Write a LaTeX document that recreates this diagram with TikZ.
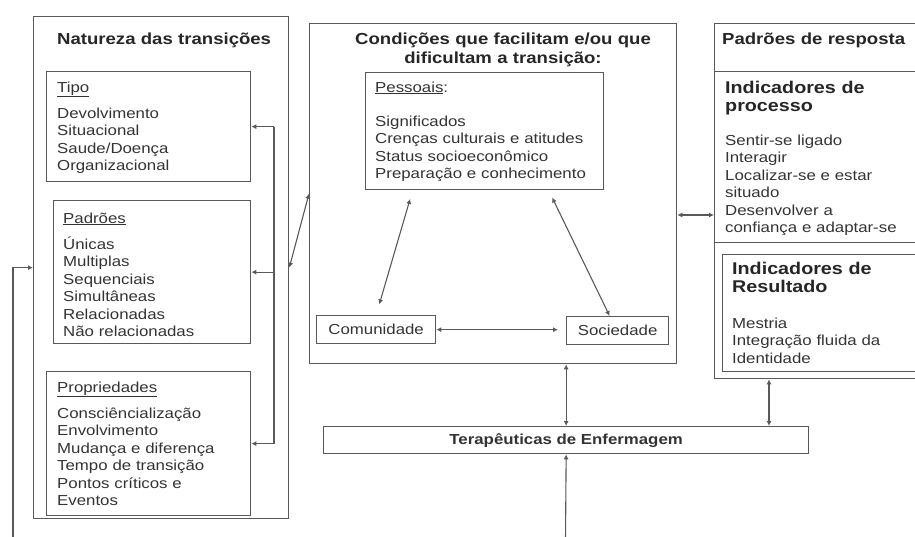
\documentclass[tikz,border=0pt]{standalone}
\usepackage{fontspec}
\setmainfont{Liberation Sans}[FakeStretch=1.16]
\usetikzlibrary{positioning,arrows.meta}

\begin{document}
\begin{tikzpicture}[
    x=1pt, y=-1pt,
    >={Latex[length=5pt,width=5pt]},
    box/.style={
        rectangle,
        draw=black!65,
        line width=1.3pt,
        anchor=north west,
        inner sep=0pt,
        text=black!80,
        font=\fontsize{14.5}{17.5}\selectfont
    },
    body/.style={
        anchor=base west,
        inner sep=0pt,
        text width=190pt,
        align=left,
        text=black!80,
        font=\fontsize{14.5}{17.5}\selectfont
    },
    head/.style={
        anchor=base west,
        inner sep=0pt,
        text width=300pt,
        align=left,
        text=black!85,
        font=\bfseries\fontsize{16}{19}\selectfont
    },
    link/.style={draw=black!65, line width=1.1pt}
]
    \useasboundingbox (0,0) rectangle (915,536);

    % Natureza das transicoes
    \node[box, minimum width=255pt, minimum height=502pt] (nat) at (33,16) {};
    \node[below right=28pt and 24pt of nat.north west, head] (natT) {Natureza das transições};
    \node[box, minimum width=204pt, minimum height=110pt] (tipo) at (46,71) {};
    \node[below right=21pt and 11pt of tipo.north west, body] (tipoT) {\underline{Tipo}\\[8.5pt]
        Devolvimento\\ Situacional\\ Saude/Doença\\ Organizacional};
    \node[box, minimum width=197pt, minimum height=143pt] (padroes) at (53,200) {};
    \node[below right=23pt and 10pt of padroes.north west, body] (padroesT) {\underline{Padrões}\\[8.5pt]
        Únicas\\ Multiplas\\ Sequenciais\\ Simultâneas\\ Relacionadas\\ Não relacionadas};
    \node[box, minimum width=204pt, minimum height=144pt] (props) at (46,371) {};
    \node[below right=21pt and 11pt of props.north west, body] (propsT) {\underline{Propriedades}\\[8.5pt]
        Consciêncialização\\ Envolvimento\\ Mudança e diferença\\ Tempo de transição\\ Pontos críticos e\\ Eventos};

    % ligacao aos tres quadros
    \coordinate (brk) at (274,0);
    \draw[link] (tipo.east -| brk) -- (props.east -| brk);
    \foreach \b in {tipo,padroes,props}
        \draw[link,->] (\b.east -| brk) -- (\b.east);

    % Condicoes
    \node[box, minimum width=367pt, minimum height=340pt] (cond) at (309,23) {};
    \node[head, anchor=base, align=center, text width=360pt] (condT) at (503,44) {Condições que facilitam e/ou que\\ dificultam a transição:};
    \node[box, minimum width=238pt, minimum height=117pt] (pess) at (365,72) {};
    \node[below right=20pt and 10pt of pess.north west, body, text width=225pt] (pessT) {\underline{Pessoais}:\\[16.5pt]
        Significados\\ Crenças culturais e atitudes\\ Status socioeconômico\\ Preparação e conhecimento};
    \node[box, minimum width=119pt, minimum height=28pt] (comun) at (316,315) {Comunidade};
    \node[box, minimum width=102pt, minimum height=28pt] (soc) at (566,316) {Sociedade};

    \draw[link,<->, shorten <=9pt, shorten >=11pt] ([xshift=-72pt]pess.south) -- (comun.north);
    \draw[link,<->, shorten <=8pt] ([xshift=64pt]pess.south) -- ([xshift=-8pt]soc.north);
    \draw[link,<->, shorten >=8pt] (comun.east) -- (comun.east -| soc.west);

    % Padroes de resposta
    \node[box, minimum width=216pt, minimum height=355pt] (resp) at (714,23) {};
    \node[below right=21pt and 8pt of resp.north west, head] (respT) {Padrões de resposta};
    \node[box, minimum width=216pt, minimum height=171pt] (proc) at (714,71) {};
    \node[below right=22pt and 11pt of proc.north west, head, font=\bfseries\fontsize{17}{18}\selectfont] (procT) {Indicadores de\\ processo};
    \node[below right=74pt and 11pt of proc.north west, body] (procL) {Sentir-se ligado\\ Interagir\\ Localizar-se e estar\\ situado\\ Desenvolver a\\ confiança e adaptar-se};
    \node[box, minimum width=208pt, minimum height=117pt] (result) at (722,254) {};
    \node[below right=20pt and 10pt of result.north west, head, font=\bfseries\fontsize{17}{18}\selectfont] (resultT) {Indicadores de\\ Resultado};
    \node[below right=74pt and 10pt of result.north west, body] (resultL) {Mestria\\ Integração fluida da\\ Identidade};

    % Terapeuticas
    \node[box, minimum width=485pt, minimum height=27pt, font=\bfseries\fontsize{14.5}{17}\selectfont] (terap) at (323,426) {Terapêuticas de Enfermagem};

    \draw[link,<->] (nat.east) -- (cond.west);
    \coordinate (lnk) at (695,215);
    \draw[link,<->] (cond.east |- lnk) -- (proc.west |- lnk);
    \draw[link,<->] (terap.north |- cond.south) -- (terap.north);
    \coordinate (tr) at (769,0);
    \draw[link,<->] (resp.south -| tr) -- (terap.north -| tr);

    % retorno por baixo
    \coordinate (retL) at (13,540);
    \coordinate (retR) at (565.5,540);
    \draw[link,->] (retL) |- (nat.west);
    \draw[link,->] (retR) -- (terap.south);
\end{tikzpicture}
\end{document}
